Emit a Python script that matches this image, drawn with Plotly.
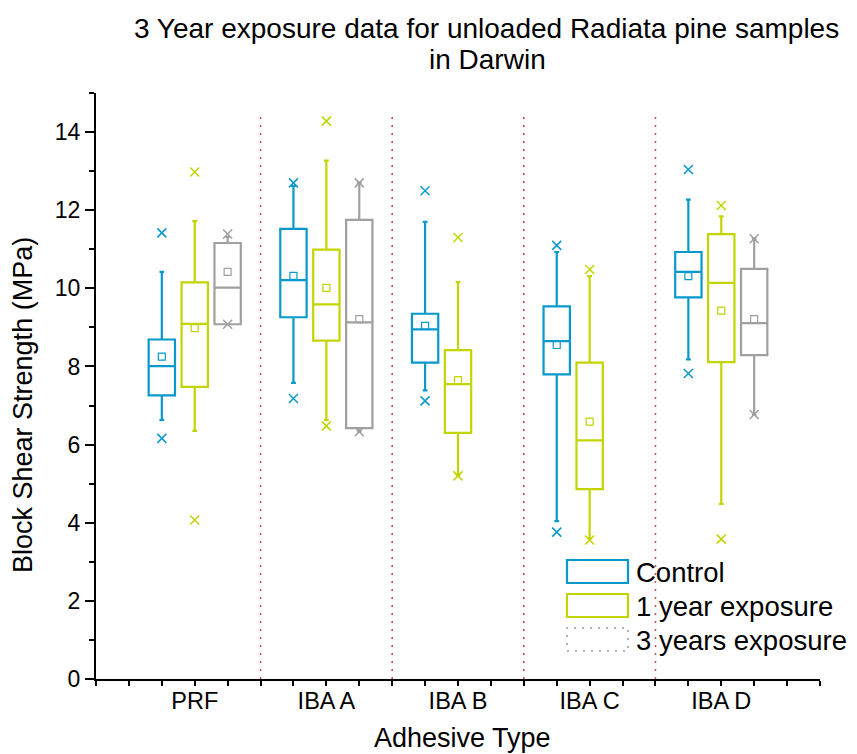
import plotly.graph_objects as go

categories = ["PRF", "IBA A", "IBA B", "IBA C", "IBA D"]

# Control
ctrl_q1 = [7.26, 9.26, 8.10, 7.80, 9.77]
ctrl_med = [8.01, 10.21, 8.95, 8.65, 10.42]
ctrl_q3 = [8.69, 11.52, 9.35, 9.54, 10.93]
ctrl_lw = [6.63, 7.58, 7.39, 4.04, 8.18]
ctrl_uw = [10.42, 12.62, 11.70, 10.93, 12.27]
ctrl_mean = [8.25, 10.32, 9.04, 8.55, 10.31]
ctrl_min = [6.16, 7.18, 7.12, 3.76, 7.82]
ctrl_max = [11.42, 12.70, 12.50, 11.10, 13.04]

# 1 year exposure
y1_q1 = [7.48, 8.66, 6.30, 4.86, 8.11]
y1_med = [9.09, 9.59, 7.55, 6.11, 10.14]
y1_q3 = [10.15, 10.99, 8.42, 8.10, 11.39]
y1_lw = [6.35, 6.63, 5.22, 3.60, 4.48]
y1_uw = [11.72, 13.27, 10.16, 10.31, 11.84]
y1_mean = [8.98, 10.01, 7.65, 6.59, 9.43]
y1_min = [4.07, 6.48, 5.20, 3.56, 3.58]
y1_max = [12.98, 14.28, 11.30, 10.48, 12.12]

# 3 years exposure (only PRF, IBA A, IBA D)
y3_cats = ["PRF", "IBA A", "IBA D"]
y3_q1 = [9.08, 6.42, 8.29]
y3_med = [10.02, 9.13, 9.11]
y3_q3 = [11.16, 11.75, 10.50]
y3_lw = [9.08, 6.33, 6.77]
y3_uw = [11.32, 12.70, 11.27]
y3_mean = [10.42, 9.21, 9.21]
y3_min = [9.08, 6.33, 6.77]
y3_max = [11.39, 12.70, 11.27]

series_names = ["Control", "1 year exposure", "3 years exposure"]
colors = ["#0799CC", "#C3D500", "#A0A0A0"]
offsets = [-0.25, 0.0, 0.25]

FONT = "Liberation Sans, Arial, sans-serif"

def pos(cats, off):
    return [categories.index(c) + 1 + off for c in cats]

fig = go.Figure()

series = [
    (categories, ctrl_q1, ctrl_med, ctrl_q3, ctrl_lw, ctrl_uw, ctrl_mean, ctrl_min, ctrl_max),
    (categories, y1_q1, y1_med, y1_q3, y1_lw, y1_uw, y1_mean, y1_min, y1_max),
    (y3_cats, y3_q1, y3_med, y3_q3, y3_lw, y3_uw, y3_mean, y3_min, y3_max),
]

# separators between categories
for i in range(len(categories) - 1):
    fig.add_shape(type="line", xref="x", yref="y", x0=i + 1.5, x1=i + 1.5, y0=0, y1=14.5,
                  line=dict(color="#C8505A", width=1.6, dash="2px,6px"), layer="below")

for k, (cats, q1, med, q3, lw, uw, mean, mn, mx) in enumerate(series):
    xs = pos(cats, offsets[k])
    c = colors[k]
    fig.add_trace(go.Box(
        x=xs, q1=q1, median=med, q3=q3, lowerfence=lw, upperfence=uw,
        width=0.2, whiskerwidth=0.18, boxpoints=False,
        line=dict(color=c, width=2.2), fillcolor="rgba(255,255,255,0)",
        name=series_names[k], showlegend=False, hoverinfo="skip"))
    fig.add_trace(go.Scatter(
        x=xs, y=mean, mode="markers", showlegend=False,
        marker=dict(symbol="square-open", size=7, color=c, line=dict(width=1.2, color=c))))
    fig.add_trace(go.Scatter(
        x=xs + xs, y=mn + mx, mode="markers", showlegend=False,
        marker=dict(symbol="x-thin", size=9, color=c, line=dict(width=1.5, color=c))))

# page body has an 8px margin: lay out in window pixels, shifted by OFF
OFF = 8
W, H = 857 - OFF, 754 - OFF
L, R, T, B = 96 - OFF, 37, 93 - OFF, 75
pw, ph = W - L - R, H - T - B

def px(xp):
    return (xp - OFF - L) / pw

def py(yp):
    return (H - B - (yp - OFF)) / ph

# legend drawn manually
leg_rows = [(560, 583), (594, 617), (628, 651)]
for k, (ya, yb) in enumerate(leg_rows):
    fig.add_shape(type="rect", xref="paper", yref="paper",
                  x0=px(567), x1=px(628), y0=py(yb), y1=py(ya),
                  line=dict(color=colors[k], width=2.2 if k < 2 else 1.6,
                            dash="solid" if k < 2 else "2px,6px"),
                  fillcolor="rgba(255,255,255,0)")
    fig.add_annotation(xref="paper", yref="paper", x=px(634), y=py((ya + yb) / 2 + 1),
                       text=series_names[k], showarrow=False, xanchor="left", yanchor="middle",
                       font=dict(family=FONT, size=27.5, color="black"))

# title (two lines)
fig.add_annotation(xref="paper", yref="paper", x=px(486), y=py(29),
                   text="3 Year exposure data for unloaded Radiata pine samples",
                   showarrow=False, xanchor="center", yanchor="middle",
                   font=dict(family=FONT, size=28, color="black"))
fig.add_annotation(xref="paper", yref="paper", x=px(488), y=py(59),
                   text="in Darwin", showarrow=False, xanchor="center", yanchor="middle",
                   font=dict(family=FONT, size=28, color="black"))

# axis titles
fig.add_annotation(xref="paper", yref="paper", x=px(462), y=py(738),
                   text="Adhesive Type", showarrow=False, xanchor="center", yanchor="middle",
                   font=dict(family=FONT, size=27, color="black"))
fig.add_annotation(xref="paper", yref="paper", x=px(23), y=py(405),
                   text="Block Shear Strength (MPa)", showarrow=False, textangle=-90,
                   xanchor="center", yanchor="middle",
                   font=dict(family=FONT, size=27, color="black"))

tickvals = [0.25 + 0.25 * i for i in range(23)]
ticktext = [categories[int(v) - 1] if float(v).is_integer() and 1 <= v <= 5 else "" for v in tickvals]

fig.update_layout(
    width=W, height=H,
    margin=dict(l=L, r=R, t=T, b=B),
    paper_bgcolor="white", plot_bgcolor="white",
    boxmode="overlay",
    font=dict(family=FONT, color="black"),
    xaxis=dict(range=[0.25, 5.75], tickmode="array", tickvals=tickvals, ticktext=ticktext,
               showgrid=False, zeroline=False, showline=True, linecolor="black", linewidth=2,
               ticks="outside", ticklen=5, tickwidth=2, tickcolor="black",
               ticklabelstandoff=-5,
               tickfont=dict(family=FONT, size=23.5, color="black")),
    yaxis=dict(range=[0, 15], dtick=2, tick0=0, showgrid=False, zeroline=False,
               showline=True, linecolor="black", linewidth=2,
               ticks="outside", ticklen=9, tickwidth=2, tickcolor="black",
               tickfont=dict(family=FONT, size=23, color="black"),
               minor=dict(dtick=1, tick0=0, ticks="outside", ticklen=5, tickwidth=2,
                          tickcolor="black", showgrid=False)),
)

fig.write_html("out.html")
